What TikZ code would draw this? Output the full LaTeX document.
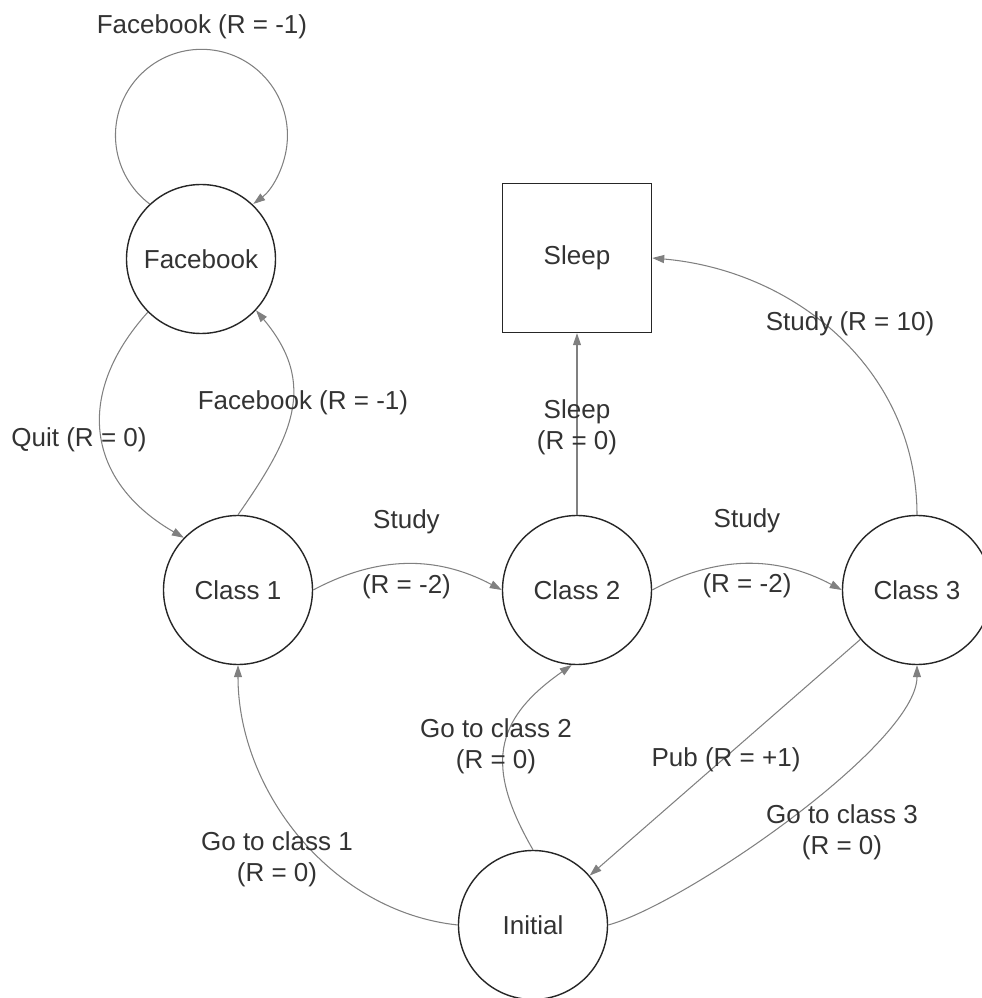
\documentclass[tikz,border=0pt]{standalone}
\usepackage{fontspec}
\setmainfont{Liberation Sans}
\usetikzlibrary{arrows.meta}
\begin{document}
\begin{tikzpicture}[
        every node/.style={font=\fontsize{14.8}{17.8}\selectfont, text=black!80},
        classnode/.style={circle, draw=black!85, line width=0.8pt, minimum size=2.98cm, inner sep=0pt},
        sleepbox/.style={rectangle, draw=black!85, line width=0.8pt, minimum size=2.98cm, inner sep=0pt},
        edge/.style={draw=black!50, line width=0.6pt, -{Triangle[length=0.24cm, width=0.16cm]}},
        lbl/.style={align=center, inner sep=0pt}]
    \useasboundingbox (0,0) rectangle (19.64,19.96);
    % states
    \node[classnode] (fb) at (4.02,14.78) {Facebook};
    \node[classnode] (c1) at (4.76,8.16) {Class 1};
    \node[classnode] (c2) at (11.54,8.16) {Class 2};
    \node[classnode] (c3) at (18.34,8.16) {Class 3};
    \node[classnode] (init) at (10.66,1.46) {Initial};
    \node[sleepbox] (sleep) at (11.54,14.80) {Sleep};
    % transitions
    \draw[edge] (fb.133) arc[start angle=233, end angle=-53, radius=1.72cm];
    \draw[edge] (fb.225) to[out=228, in=150, looseness=1.25] (c1.136);
    \draw[edge] (c1.north) to[out=55, in=-50, looseness=1.2] (fb.-43);
    \draw[edge] (c1.east) to[bend left=28] (c2.west);
    \draw[edge] (c2.east) to[bend left=28] (c3.west);
    \draw[edge] (c2) -- (sleep);
    \draw[edge] (c3.north) to[out=90, in=-5] (sleep.east);
    \draw[edge] (c3) -- (init);
    \draw[edge] (init.west) to[out=174, in=-90, looseness=0.95] (c1.south);
    \draw[edge] (init.north) to[out=120, in=-145, looseness=1.3] (c2.-94);
    \draw[edge] (init.east) to[out=15, in=-90, looseness=0.5] (c3.south);
    % labels
    \node[lbl] (lloop) at (4.04,19.42) {Facebook (R = -1)};
    \node[lbl] (lquit) at (1.58,11.16) {Quit (R = 0)};
    \node[lbl] (lfb) at (6.06,11.90) {Facebook (R = -1)};
    \node[lbl] (lstudya) at (8.13,8.87) {Study\\[0.67cm](R = -2)};
    \node[lbl] (lstudyb) at (14.94,8.90) {Study\\[0.67cm](R = -2)};
    \node[lbl] (lsleep) at (11.54,11.41) {Sleep\\(R = 0)};
    \node[lbl] (lstudyc) at (17.00,13.48) {Study (R = 10)};
    \node[lbl] (lpub) at (14.52,4.76) {Pub (R = +1)};
    \node[lbl] (lgoa) at (5.54,2.78) {Go to class 1\\(R = 0)};
    \node[lbl] (lgob) at (9.92,5.03) {Go to class 2\\(R = 0)};
    \node[lbl] (lgoc) at (16.84,3.32) {Go to class 3\\(R = 0)};
\end{tikzpicture}
\end{document}
